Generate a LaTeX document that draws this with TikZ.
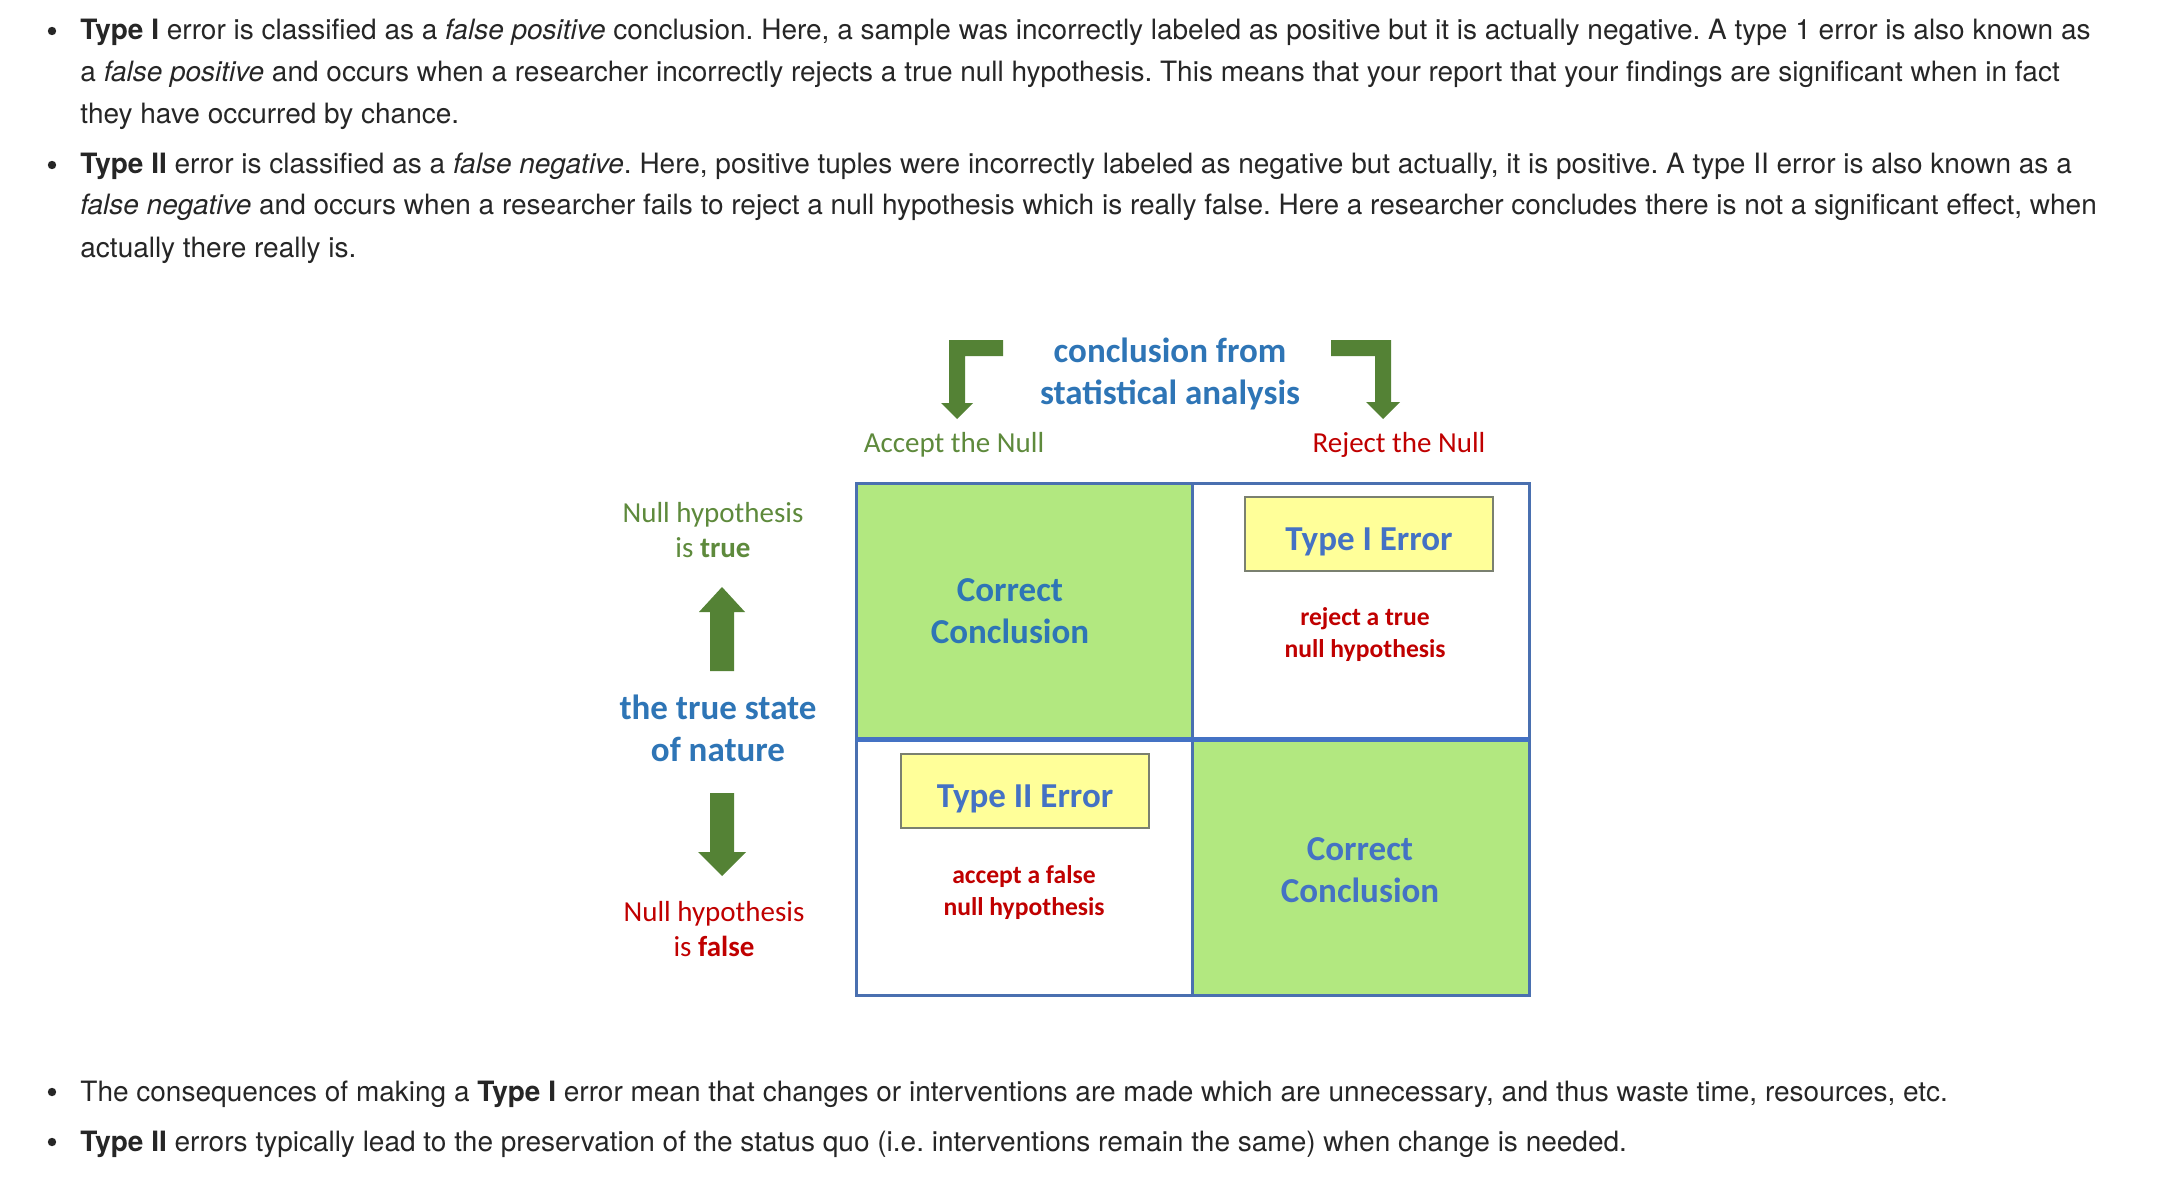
\documentclass[tikz,border=0pt]{standalone}
\usepackage{fontspec}
\newfontfamily\bodyfont{TeX Gyre Heros}
\newfontfamily\calfont{Carlito}
\frenchspacing
\definecolor{bodytext}{HTML}{262626}
\definecolor{arrowgreen}{HTML}{548235}
\definecolor{labelgreen}{HTML}{5E8A3C}
\definecolor{titleblue}{HTML}{2E75B6}
\definecolor{boxblue}{HTML}{4472C4}
\definecolor{gridblue}{HTML}{4A70B0}
\definecolor{cellgreen}{HTML}{B2E880}
\definecolor{notered}{HTML}{C00000}
\definecolor{boxyellow}{HTML}{FFFF99}
\definecolor{boxedge}{HTML}{7A8070}
\begin{document}
\begin{tikzpicture}[x=0.5pt,y=-0.5pt,
  bodyline/.style={anchor=base west,inner sep=0pt,text=bodytext,
    font=\bodyfont\fontsize{14pt}{17pt}\selectfont},
  bulletdot/.style={fill=bodytext,circle,inner sep=0pt,minimum size=4.2pt},
  heading/.style={align=center,text=titleblue,inner sep=0pt,
    font=\calfont\bfseries\fontsize{17.5pt}{21pt}\selectfont},
  sidelabel/.style={align=center,inner sep=0pt,
    font=\calfont\fontsize{14.5pt}{17.5pt}\selectfont},
  errorbox/.style={draw=boxedge,line width=1pt,fill=boxyellow,text=boxblue,
    minimum width=124pt,minimum height=37pt,inner sep=0pt,
    text height=16pt,text depth=0pt,
    font=\calfont\bfseries\fontsize{17.5pt}{21pt}\selectfont},
  errornote/.style={align=center,text=notered,inner sep=0pt,
    font=\calfont\bfseries\fontsize{12.8pt}{16pt}\selectfont},
  blockarrow/.style={fill=arrowgreen}]

\useasboundingbox[fill=white] (0,0) rectangle (2158,1182);

% ---- explanatory text above the chart
\foreach \yy in {31,165,1092,1142} \node[bulletdot] at (52,\yy) {};
\node[bodyline] (l1) at (80,40) {\textbf{Type I} error is classified as a \textit{false positive} conclusion. Here, a sample was incorrectly labeled as positive but it is actually negative. A type 1 error is also known as};
\node[bodyline] (l2) at (80,82) {a \textit{false positive} and occurs when a researcher incorrectly rejects a true null hypothesis. This means that your report that your findings are significant when in fact};
\node[bodyline] (l3) at (80,124) {they have occurred by chance.};
\node[bodyline] (l4) at (80,174) {\textbf{Type II} error is classified as a \textit{false negative}. Here, positive tuples were incorrectly labeled as negative but actually, it is positive. A type II error is also known as a};
\node[bodyline] (l5) at (80,215) {\textit{false negative} and occurs when a researcher fails to reject a null hypothesis which is really false. Here a researcher concludes there is not a significant effect, when};
\node[bodyline] (l6) at (80,258) {actually there really is.};

% ---- 2x2 decision table
\fill[cellgreen] (856,483) rectangle (1192,739);
\fill[cellgreen] (1192,739) rectangle (1529,995);
\draw[gridblue,line width=1.5pt] (856,483) rectangle (1529,995);
\draw[gridblue,line width=1.5pt] (1192,483) -- (1192,995);
\draw[boxblue,line width=2.5pt] (856,739) -- (1529,739);

% ---- column header with bent arrows
\node[heading] (head) at (1170,374) {conclusion from\\statistical analysis};
\fill[blockarrow] (1003,340) -- (949,340) -- (949,403) -- (941,403) -- (957,419)
  -- (973,403) -- (965,403) -- (965,356) -- (1003,356) -- cycle;
\fill[blockarrow] (1331,340) -- (1391,340) -- (1391,402) -- (1400,402) -- (1383,419)
  -- (1366,402) -- (1375,402) -- (1375,356) -- (1331,356) -- cycle;
\node[sidelabel,text=labelgreen] (acc) at (954,445) {Accept the Null};
\node[sidelabel,text=notered] (rej) at (1399,445) {Reject the Null};

% ---- row header with vertical arrows
\node[sidelabel,text=labelgreen] (htrue) at (713,530) {Null hypothesis\\is \textbf{true}};
\fill[blockarrow] (722,587) -- (745,612) -- (734,612) -- (734,671) -- (710,671)
  -- (710,612) -- (699,612) -- cycle;
\node[heading] (nature) at (718,728) {the true state\\of nature};
\fill[blockarrow] (710,793) -- (734,793) -- (734,852) -- (746,852) -- (722,876)
  -- (698,852) -- (710,852) -- cycle;
\node[sidelabel,text=notered] (hfalse) at (714,929) {Null hypothesis\\is \textbf{false}};

% ---- cell contents
\node[heading,text=titleblue] (cc1) at (1010,611) {Correct\\Conclusion};
\node[errorbox] (t1) at (1369,534) {Type I Error};
\node[errornote] (n1) at (1365,635) {reject a true\\null hypothesis};
\node[errorbox] (t2) at (1025,791) {Type II Error};
\node[errornote] (n2) at (1024,893) {accept a false\\null hypothesis};
\node[heading,text=boxblue] (cc2) at (1360,870) {Correct\\Conclusion};

% ---- text below the chart
\node[bodyline] (l7) at (80,1101) {The consequences of making a \textbf{Type I} error mean that changes or interventions are made which are unnecessary, and thus waste time, resources, etc.};
\node[bodyline] (l8) at (80,1151) {\textbf{Type II} errors typically lead to the preservation of the status quo (i.e. interventions remain the same) when change is needed.};
\end{tikzpicture}
\end{document}
